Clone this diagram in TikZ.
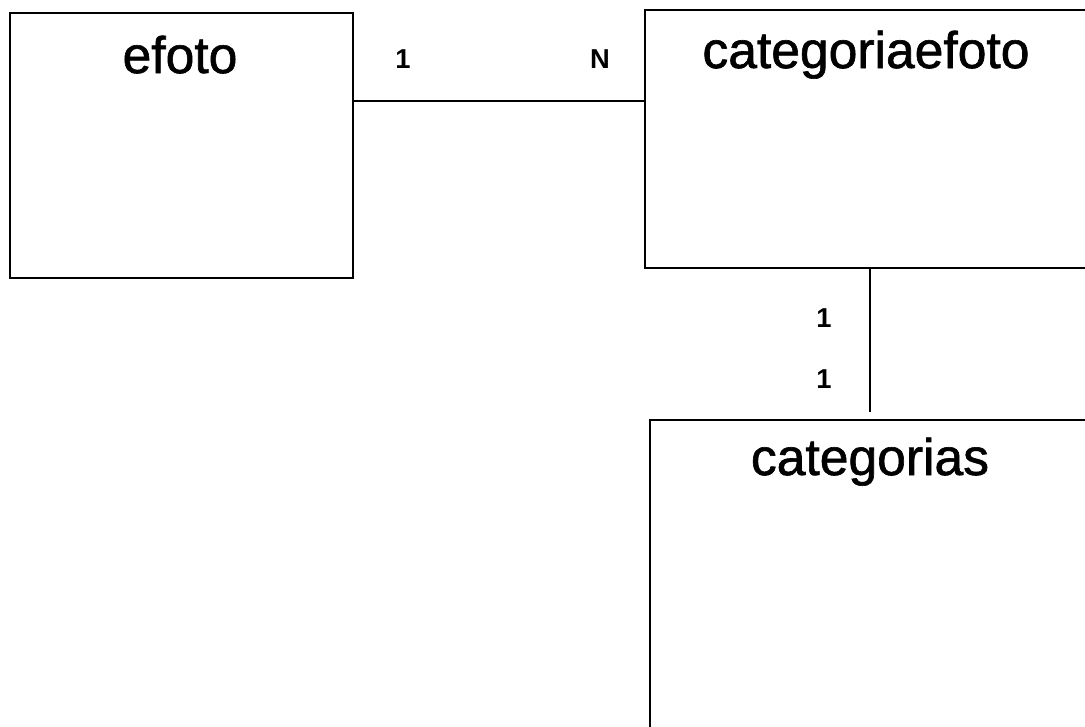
\documentclass[tikz,border=0pt]{standalone}
\usepackage{fontspec}
\setmainfont{Liberation Sans}
\newfontfamily\thickfont[FakeBold=1.2]{Liberation Sans}
\begin{document}
\begin{tikzpicture}[x=0.75pt,y=-0.75pt,
  entbox/.style={draw=black,line width=1.6pt,rectangle,inner sep=0pt},
  title/.style={anchor=base,inner sep=0pt,font=\thickfont\fontsize{38.7}{40}\selectfont},
  card/.style={anchor=base,inner sep=0pt,font=\bfseries\fontsize{20.5}{22}\selectfont},
  conn/.style={line width=1.6pt}]
\useasboundingbox (0,0) rectangle (1085,726);
\clip (0,0) rectangle (1085,726);
\fill[white] (0,0) rectangle (1085,726);
% entities
\node[entbox,minimum width=257.25pt,minimum height=198.75pt] (efoto) at (181.5,145.5) {};
\node[entbox,minimum width=341.25pt,minimum height=193.5pt] (cef) at (872.5,139) {};
\node[entbox,minimum width=337.5pt,minimum height=255pt] (cat) at (875,590) {};
% titles
\node[title] (efotoT) at (180,73) {efoto};
\node[title] (cefT) at (866,68) {categoriaefoto};
\node[title] (catT) at (870,475) {categorias};
% connectors
\coordinate (h) at (0,101);
\coordinate (v) at (870,0);
\draw[conn] (efoto.east |- h) -- (cef.west |- h);
\draw[conn,shorten >=5.25pt] (cef.south -| v) -- (cat.north -| v);
% cardinalities
\node[card] (c1) at (403,68) {1};
\node[card] (cN) at (600,68) {N};
\node[card] (c2) at (824,327) {1};
\node[card] (c3) at (824,388) {1};
\end{tikzpicture}
\end{document}
